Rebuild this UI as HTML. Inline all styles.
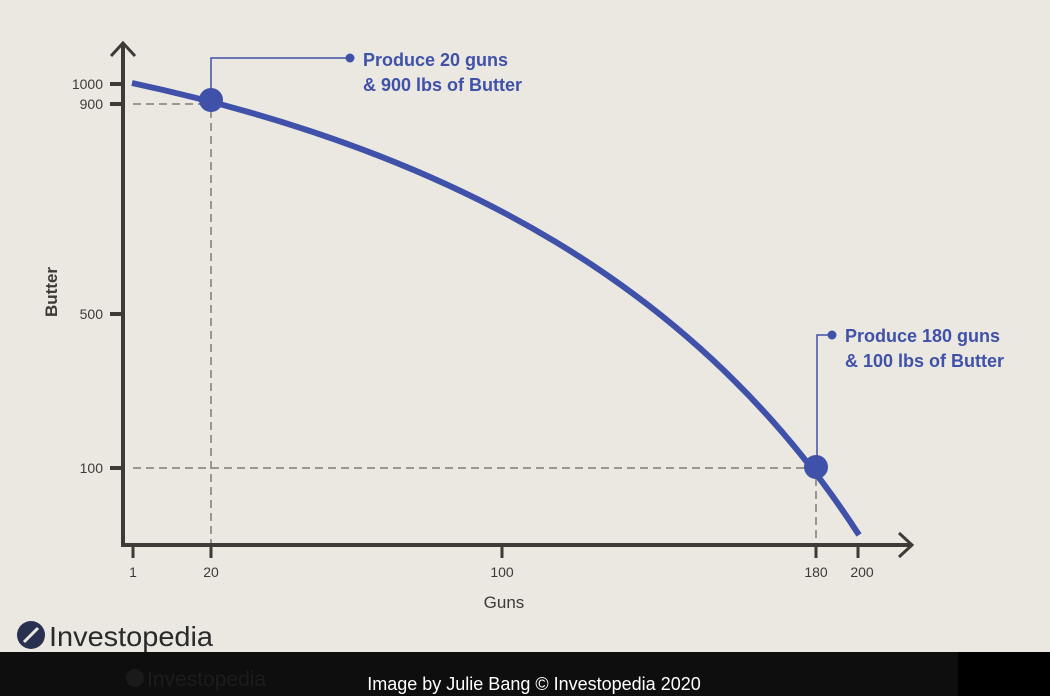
<!DOCTYPE html>
<html><head><meta charset="utf-8"><style>
html,body{margin:0;padding:0;width:1050px;height:696px;overflow:hidden;background:#ebe8e1;}
</style></head><body>
<svg width="1050" height="696" viewBox="0 0 1050 696" xmlns="http://www.w3.org/2000/svg" font-family="Liberation Sans, sans-serif">
<rect width="1050" height="696" fill="#ebe8e1"/>
<g stroke="#9a9690" stroke-width="2" stroke-dasharray="8,5" fill="none">
<line x1="133" y1="104" x2="205" y2="104"/>
<line x1="211" y1="110" x2="211" y2="543"/>
<line x1="133" y1="468" x2="810" y2="468"/>
<line x1="816" y1="478" x2="816" y2="543"/>
</g>
<g stroke="#3d3a38" stroke-width="4" fill="none" stroke-linecap="butt">
<line x1="123" y1="44" x2="123" y2="547"/>
<line x1="121" y1="545" x2="912" y2="545"/>
<polyline points="111,56 123,43 135,56" stroke-width="3"/>
<polyline points="899,533 912,545 899,557" stroke-width="3"/>
<line x1="110" y1="84" x2="123" y2="84"/>
<line x1="110" y1="104" x2="123" y2="104"/>
<line x1="110" y1="314" x2="123" y2="314"/>
<line x1="110" y1="468" x2="123" y2="468"/>
<line x1="133" y1="545" x2="133" y2="558" stroke-width="3"/>
<line x1="211" y1="545" x2="211" y2="558" stroke-width="3"/>
<line x1="502" y1="545" x2="502" y2="558" stroke-width="3"/>
<line x1="816" y1="545" x2="816" y2="558" stroke-width="3"/>
<line x1="858" y1="545" x2="858" y2="558" stroke-width="3"/>
</g>
<g fill="#3d3a38" font-size="14" text-anchor="end">
<text x="103" y="89">1000</text>
<text x="103" y="109">900</text>
<text x="103" y="319">500</text>
<text x="103" y="473">100</text>
</g>
<g fill="#3d3a38" font-size="14" text-anchor="middle">
<text x="133" y="577">1</text>
<text x="211" y="577">20</text>
<text x="502" y="577">100</text>
<text x="816" y="577">180</text>
<text x="862" y="577">200</text>
<text x="504" y="608" font-size="17">Guns</text>
<text transform="translate(57,292) rotate(-90)" font-size="17" font-weight="bold">Butter</text>
</g>
<path d="M132,83 C452,151.8 699,287 859,535" fill="none" stroke="#3f51a8" stroke-width="6"/>
<circle cx="211" cy="100" r="12" fill="#3f51a8"/>
<circle cx="816" cy="467" r="12" fill="#3f51a8"/>
<g stroke="#3f51a8" stroke-width="1.5" fill="none">
<polyline points="350,58 211,58 211,100"/>
<polyline points="832,335 817,335 817,467"/>
</g>
<circle cx="350" cy="58" r="4.5" fill="#3f51a8"/>
<circle cx="832" cy="335" r="4.5" fill="#3f51a8"/>
<g fill="#3f51a8" font-size="18" font-weight="bold">
<text x="363" y="66">Produce 20 guns</text>
<text x="363" y="91">&amp; 900 lbs of Butter</text>
<text x="845" y="342">Produce 180 guns</text>
<text x="845" y="367">&amp; 100 lbs of Butter</text>
</g>
<circle cx="31" cy="635" r="14" fill="#2a3150"/>
<path d="M24,642 L38,628" stroke="#ebe8e1" stroke-width="3"/>
<text x="49" y="646" font-size="28" fill="#2a2a2a" textLength="164" lengthAdjust="spacingAndGlyphs">Investopedia</text>
<rect x="0" y="652" width="1050" height="44" fill="#0e0e0e"/>
<rect x="958" y="652" width="92" height="44" fill="#000"/>
<text x="147" y="686" font-size="21" fill="#1c1c1c">Investopedia</text>
<circle cx="135" cy="678" r="9" fill="#1a1a1a"/>
<text x="534" y="690" font-size="18" fill="#ffffff" text-anchor="middle">Image by Julie Bang © Investopedia 2020</text>
</svg>
</body></html>
